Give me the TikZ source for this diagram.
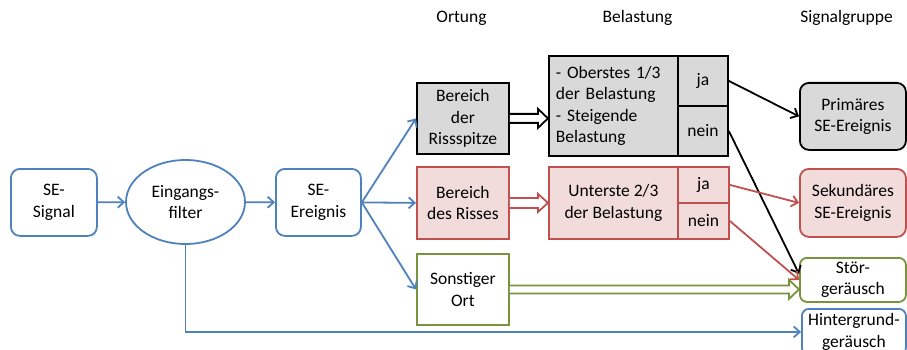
\documentclass[tikz,border=0pt]{standalone}
\usepackage{fontspec}
\setmainfont{Carlito}
\usetikzlibrary{arrows.meta,calc,shapes.geometric}
\definecolor{cblue}{HTML}{4F81BD}
\definecolor{cred}{HTML}{C0504D}
\definecolor{cgreen}{HTML}{77933C}
\definecolor{cgray}{HTML}{D9D9D9}
\definecolor{cpink}{HTML}{F2DCDB}
\newcommand\harrow[5]{\draw[#3, line width=1.8pt, fill=white, line join=miter]
  ($#1+(0,-#4)$) -- ($#2+(-10,-#4)$) -- ($#2+(-10,-#5)$) -- #2 -- ($#2+(-10,#5)$) -- ($#2+(-10,#4)$) -- ($#1+(0,#4)$);}
\begin{document}
\begin{tikzpicture}[x=1pt,y=-1pt, font=\fontsize{17.5}{21.5}\selectfont,
  box/.style={draw, line width=1.8pt, anchor=north west, inner sep=0pt, align=center},
  bluebox/.style={box, draw=cblue, fill=white},
  graybox/.style={box, draw=black, fill=cgray},
  pinkbox/.style={box, draw=cred, fill=cpink},
  greenbox/.style={box, draw=cgreen, fill=white},
  conn/.style={line width=1.8pt, -{Straight Barb[length=6pt,width=11pt]}},
  hdr/.style={inner sep=0pt}
]
\useasboundingbox (0,0) rectangle (907,350);

% headers
\node[hdr] (h1) at (461.5,18) {Ortung};
\node[hdr] (h2) at (637.5,18) {Belastung};
\node[hdr] (h3) at (846.5,18) {Signalgruppe};

% left chain
\node[bluebox, rounded corners=9pt, minimum width=86pt, minimum height=67pt] (sig) at (10,168) {SE-\\Signal};
\node[draw=cblue, ellipse, line width=1.8pt, minimum width=119pt, minimum height=84pt, inner sep=0pt, align=center] (filt) at (185.5,202) {Eingangs-\\filter};
\node[bluebox, rounded corners=9pt, minimum width=85pt, minimum height=67pt] (ereig) at (275,168) {SE-\\Ereignis};

% Ortung
\node[graybox, minimum width=92pt, minimum height=71pt] (riss1) at (416,82) {Bereich\\der\\Rissspitze};
\node[pinkbox, minimum width=92pt, minimum height=72pt] (riss2) at (416,166) {Bereich\\des Risses};
\node[greenbox, minimum width=92pt, minimum height=71pt] (sonst) at (416,253) {Sonstiger\\Ort};

% Belastung
\node[graybox, minimum width=129pt, minimum height=100pt, align=left, text width=115pt, inner xsep=7pt] (bel1) at (548,55) {- Oberstes 1/3\\der Belastung\\- Steigende\\Belastung};
\node[graybox, minimum width=50pt, minimum height=50pt] (ja1) at (677,55) {ja};
\node[graybox, minimum width=50pt, minimum height=50pt] (nein1) at (677,105) {nein};
\node[pinkbox, minimum width=129pt, minimum height=72pt] (bel2) at (548,166) {Unterste 2/3\\der Belastung};
\node[pinkbox, minimum width=51pt, minimum height=36pt] (ja2) at (677,166) {ja};
\node[pinkbox, minimum width=51pt, minimum height=36pt] (nein2) at (677,202) {nein};

% Signalgruppe
\node[graybox, rounded corners=9pt, minimum width=106pt, minimum height=67pt] (prim) at (799,82) {Primäres\\SE-Ereignis};
\node[pinkbox, rounded corners=9pt, minimum width=106pt, minimum height=68pt] (sek) at (799,168) {Sekundäres\\SE-Ereignis};
\node[greenbox, rounded corners=7pt, minimum width=106pt, minimum height=44pt] (stoer) at (799,257) {Stör-\\geräusch};
\node[bluebox, rounded corners=7pt, minimum width=104pt, minimum height=46pt] (hint) at (801,308) {Hintergrund-\\geräusch};

% connectors
\draw[conn, cblue] (sig) -- (filt);
\draw[conn, cblue] (filt) -- (ereig);
\draw[conn, cblue] (ereig.east) -- (riss1.west);
\draw[conn, cblue] (ereig.east) -- (riss2.west);
\draw[conn, cblue] (ereig.east) -- (sonst.west);
\draw[conn, cblue] (filt.south) |- (hint.west);

\harrow{(riss1.east)}{(bel1.west |- riss1.east)}{black}{4.5}{9.5}
\harrow{(riss2.east)}{(bel2.west |- riss2.east)}{cred}{5}{9}
\harrow{(sonst.east)}{(stoer.west |- sonst.east)}{cgreen}{4}{9.5}

\draw[conn, black] (ja1.east) -- (prim.west);
\draw[conn, black] (nein1.east) -- ($(stoer.west)+(0,-6)$);
\draw[conn, cred] (ja2.east) -- (sek.west);
\draw[conn, cred] (nein2.east) -- (stoer.west);
\end{tikzpicture}
\end{document}
